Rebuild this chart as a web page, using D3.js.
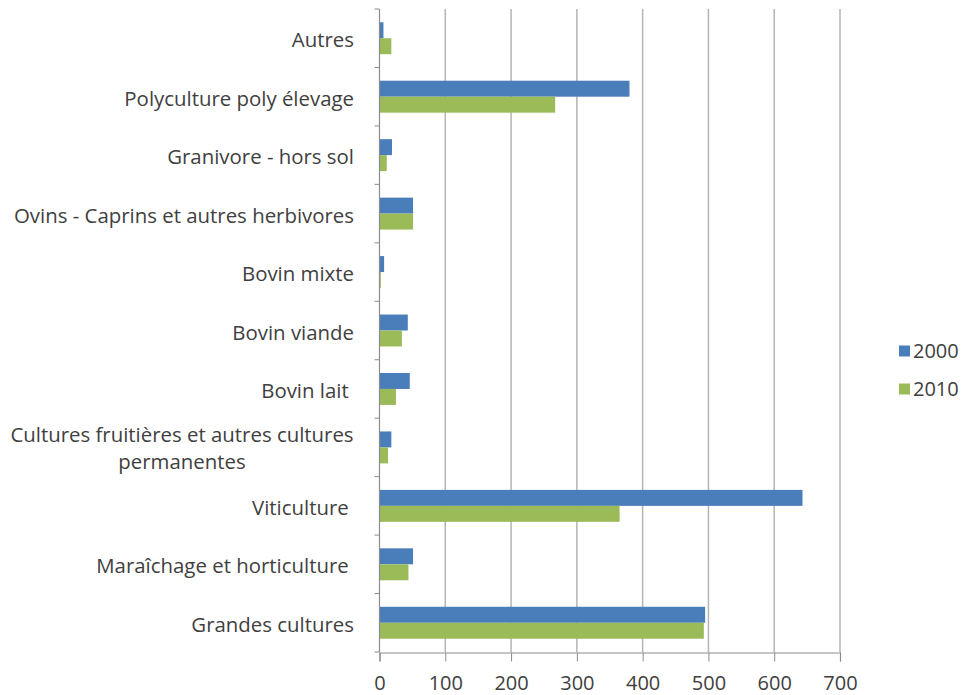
<!DOCTYPE html>
<html>
<head>
<meta charset="utf-8">
<script src="https://cdn.jsdelivr.net/npm/d3@7"></script>
<style>
    body { margin: 0; background: #fff; }
    svg { display: block; font-family: "Open Sans", sans-serif; }
</style>
</head>
<body>
<div id="chart"></div>
<script>
// categories from top to bottom, as in the picture
const categories = [
    "Autres",
    "Polyculture poly élevage",
    "Granivore - hors sol",
    "Ovins - Caprins et autres herbivores",
    "Bovin mixte",
    "Bovin viande",
    "Bovin lait ",
    "Cultures fruitières et autres cultures|permanentes",
    "Viticulture ",
    "Maraîchage et horticulture ",
    "Grandes cultures"
];
const seriesNames = ["2000", "2010"];
const values2000 = [6, 380, 19, 51, 7, 43, 46, 18, 643, 51, 495];
const values2010 = [18, 267, 11, 51, 2, 34, 25, 13, 365, 44, 493];
const xTicks = [0, 100, 200, 300, 400, 500, 600, 700];
const colors = ["#4a7ebb", "#9bbb59"];

const width = 967, height = 695;
const margin = {top: 9, right: 127, bottom: 43, left: 379.5};

const svg = d3.select('#chart')
    .append('svg')
    .attr('width', width)
    .attr('height', height);

const x = d3.scaleLinear()
    .domain([0, 700])
    .range([margin.left, width - margin.right]);

const y0 = d3.scaleBand()
    .domain(categories)
    .range([margin.top, height - margin.bottom]);

const y1 = d3.scaleBand()
    .domain(seriesNames)
    .range([0, y0.bandwidth()])
    .paddingOuter(0.83);

// gridlines
svg.append('g')
    .selectAll('line')
    .data(xTicks.slice(1))
    .enter()
    .append('line')
    .attr('x1', d => x(d)).attr('x2', d => x(d))
    .attr('y1', margin.top).attr('y2', height - margin.bottom)
    .style('stroke', '#b4b4b4')
    .style('stroke-width', 1.5);

// bars
const rows = categories.map((c, i) => ({cat: c, vals: [values2000[i], values2010[i]]}));
const groups = svg.append('g')
    .selectAll('g')
    .data(rows)
    .enter()
    .append('g')
    .attr('transform', d => 'translate(0,' + y0(d.cat) + ')');

groups.selectAll('rect')
    .data(d => d.vals.map((v, j) => ({s: seriesNames[j], v: v, j: j})))
    .enter()
    .append('rect')
    .attr('x', x(0))
    .attr('y', d => y1(d.s))
    .attr('width', d => x(d.v) - x(0))
    .attr('height', y1.bandwidth())
    .style('fill', d => colors[d.j]);

// vertical axis line + ticks at band edges
const axisColor = '#8c8c8c';
svg.append('line')
    .attr('x1', x(0)).attr('x2', x(0))
    .attr('y1', margin.top).attr('y2', height - margin.bottom)
    .style('stroke', axisColor).style('stroke-width', 1.2);

const edges = categories.map(c => y0(c)).concat([height - margin.bottom]);
svg.append('g')
    .selectAll('line')
    .data(edges)
    .enter()
    .append('line')
    .attr('x1', x(0) - 5).attr('x2', x(0))
    .attr('y1', d => d).attr('y2', d => d)
    .style('stroke', axisColor);

// bottom axis
const xAxis = svg.append('g')
    .attr('transform', 'translate(0,' + (height - margin.bottom + 0.5) + ')')
    .call(d3.axisBottom(x).tickValues(xTicks).tickSize(9).tickPadding(14));
xAxis.select('.domain').style('stroke', axisColor).style('stroke-width', 1.2);
xAxis.selectAll('.tick line').style('stroke', axisColor);
xAxis.selectAll('text')
    .style('font-family', '"Open Sans", sans-serif')
    .style('font-size', '20px')
    .style('fill', '#404040');

// category labels
const labels = svg.append('g')
    .selectAll('text')
    .data(categories)
    .enter()
    .append('text')
    .style('font-size', '20.4px')
    .style('fill', '#404040');

labels.each(function (d) {
    const parts = d.split('|');
    const cy = y0(d) + y0.bandwidth() / 2;
    const t = d3.select(this);
    if (parts.length === 1) {
        t.attr('x', 354)
            .attr('y', cy + 2)
            .attr('dy', '.35em')
            .attr('text-anchor', 'end')
            .style('white-space', 'pre')
            .text(d);
    } else {
        t.attr('text-anchor', 'middle');
        parts.forEach((p, k) => {
            t.append('tspan')
                .attr('x', 182)
                .attr('y', cy - 13 + k * 27)
                .attr('dy', '.35em')
                .text(p);
        });
    }
});

// legend
const legend = svg.append('g')
    .selectAll('g')
    .data(seriesNames)
    .enter()
    .append('g')
    .attr('transform', (d, i) => 'translate(899,' + (351 + i * 38) + ')');

legend.append('rect')
    .attr('x', 0).attr('y', -5.5)
    .attr('width', 11).attr('height', 11)
    .style('fill', (d, i) => colors[i]);

legend.append('text')
    .attr('x', 14)
    .attr('y', 0)
    .attr('dy', '.35em')
    .style('font-size', '20px')
    .style('fill', '#404040')
    .text(d => d);
</script>
</body>
</html>
